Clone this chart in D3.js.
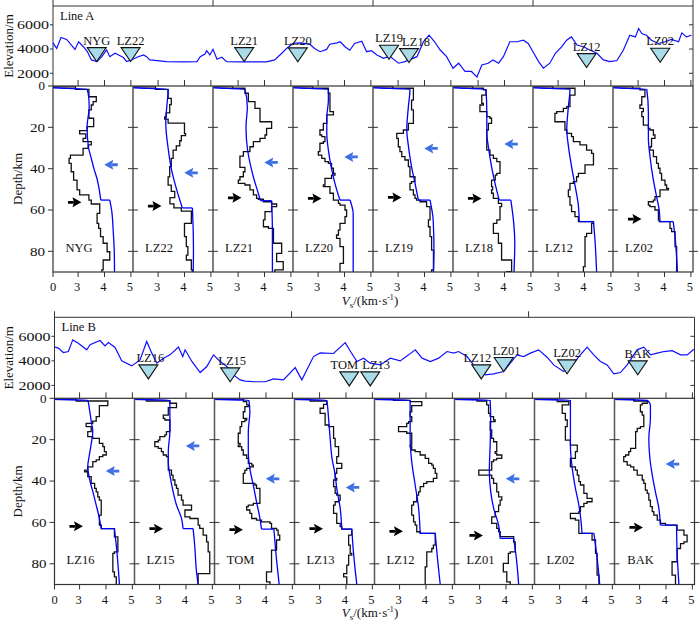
<!DOCTYPE html>
<html><head><meta charset="utf-8">
<script src="https://cdn.jsdelivr.net/npm/d3@7/dist/d3.min.js"></script>
<style>body{margin:0;background:#fff}svg{display:block}</style>
</head><body>
<svg id="c" width="700" height="622"></svg>
<script>
// ---------------- DATA ----------------
const velTicks = [3, 4, 5];
const depthTicks = [0, 20, 40, 60, 80];
const elevTicks = [2000, 4000, 6000];

// Line A elevation profile [distance km, elevation m]
const profileA = [[0,4510],[4.6,4050],[10,4950],[17,4790],[23,4330],[27.5,3970],[32,4600],[38,4190],[43,3780],[48,3100],[55,2960],[61,3370],[67,3920],[71,3370],[77.5,3650],[82,3510],[88,3300],[92,2960],[98,3100],[105,3320],[113,3510],[117,3370],[121,3100],[130,3050],[142,2960],[163,2940],[180,2960],[184,3370],[190,3590],[192,3860],[196,3510],[200,3970],[205,3160],[211,3320],[217,2960],[234,2940],[267,2940],[277,3100],[286,3650],[292,4050],[300,4460],[309,4510],[321,4400],[327,4050],[334,3780],[342,3970],[346,4400],[355,4510],[359,4600],[365,4190],[371,3900],[377,4460],[386,4650],[392,3780],[398,3860],[405,3510],[413,3240],[421,3400],[432,2830],[440,2960],[455,3370],[463,4600],[470,5140],[477,4600],[484,3920],[492,3370],[500,2420],[507,2830],[515,2150],[523,2150],[530,1690],[536,2690],[544,2830],[550,3100],[557,2830],[563,3370],[571,4600],[580,4600],[588,4730],[594,4460],[600,3780],[607,2960],[613,2420],[621,2830],[628,3650],[636,4190],[642,4730],[648,5000],[655,4330],[663,4190],[671,3920],[680,3650],[688,3100],[696,2960],[705,3050],[713,3920],[721,5140],[728,5000],[732,5690],[736,5280],[742,5140],[748,4730],[757,4460],[765,4600],[773,4790],[782,4600],[786,5330],[792,5000],[798,5140]];
const stationsA = ["NYG","LZ22","LZ21","LZ20","LZ19","LZ18","LZ12","LZ02"];
const stationDistA = [54.6, 97, 239, 306, 420, 445, 667, 759];
const stationElevA = [2960, 2960, 2960, 2940, 3160, 2880, 2470, 2910];
const labelNudgeA = [0, 0, 0, 0, 0, 7, 0, 0];

// Line B elevation profile
const profileB = [[0.4,5120],[3.2,5040],[7.5,4680],[11.7,4760],[15.4,5710],[20.1,5440],[27.2,4900],[30,5310],[38.4,5660],[42.6,5220],[45.5,5490],[51.1,5090],[56.7,4000],[65.2,3590],[72.2,4080],[77.8,5580],[82.1,4630],[86.3,3810],[91.9,4220],[97.5,4490],[104.6,5120],[108.2,4350],[110.2,4900],[115.9,3950],[122.9,3050],[128.5,3540],[134.1,4490],[139.8,3950],[145.4,3540],[151,2860],[156.6,2450],[160.8,2350],[169.3,2300],[177.8,2300],[184.8,2530],[193.2,2450],[203.1,3450],[208.7,2450],[218.5,4350],[224.2,4650],[235.4,4600],[245.3,5490],[249.5,4800],[255.2,3950],[260.8,4220],[266.4,3810],[274.9,3670],[283.3,4220],[291.7,4000],[298.8,4490],[304.4,4900],[310.1,4220],[317.1,3950],[324.1,4220],[331.2,4760],[336.8,4630],[341,4760],[348.1,4350],[353.6,3670],[359.3,3200],[363.5,2860],[370.5,2940],[379,3130],[384.6,3810],[390.3,4490],[395.9,4350],[401.5,4630],[408.5,4900],[415.6,4300],[421.2,3670],[429.6,3130],[438.1,3810],[443.7,4490],[449.4,5120],[455,4490],[460.6,3950],[466.3,3670],[471.9,2940],[477.5,3050],[483.2,3670],[491.6,4900],[497.2,5120],[502.9,4490],[508.5,4630],[514.1,4760],[521.2,4830],[528.2,4490],[533.8,4490],[539.5,4950]];
const stationsB = ["LZ16","LZ15","TOM","LZ13","LZ12","LZ01","LZ02","BAK"];
const stationDistB = [79.2, 148.2, 248.7, 266.4, 360.1, 379, 432.5, 492.1];
const stationElevB = [2530, 2290, 1960, 1960, 2530, 3130, 2940, 2860];
const labelNudgeB = [2, 2, -5, 6, -4, 3, 0, 0];

// Inverted Vs models (black steps): [top depth km, Vs km/s]
const vsObsA = [
 [[0,1.8],[0.4,2.9],[1.6,3.41],[5.2,3.69],[7.6,3.57],[9.2,3.5],[11.6,3.41],[15.6,3.59],[19.7,3.34],[21.6,3.06],[23.2,3.29],[25.3,3.19],[26.9,3.5],[28.5,3.38],[30.2,3.19],[33.4,2.71],[35,2.66],[37.4,2.74],[41.5,2.83],[45.5,2.96],[50.3,3.06],[52.7,3.41],[55.2,3.5],[57.1,3.82],[61.6,3.72],[66.5,3.78],[68.9,3.85],[72.9,3.95],[76.1,4.1],[80.2,4.2],[84.2,3.95],[89,3.9]],
 [[0,1.8],[0.4,2.9],[1.6,3.38],[6,3.5],[9,3.44],[13,3.31],[15,3.25],[16,3.38],[18,4.0],[23,4.04],[24,3.88],[26.5,3.82],[29,3.69],[31,3.57],[35,3.5],[39,3.44],[44,3.38],[48,3.5],[51,3.63],[54,3.45],[57,3.6],[59,3.88],[60.5,4.26],[65,4.26],[66.5,4.0],[72.9,4.07],[77.7,4.13],[81.8,4.07],[84.2,4.26],[89,4.3]],
 [[0,1.8],[0.4,2.8],[1.1,3.26],[3.5,3.39],[7.6,3.64],[10.8,3.83],[17.3,4.27],[20.5,4.08],[23.7,4.02],[25.3,3.83],[26.9,3.58],[29.4,3.45],[31.8,3.2],[33.9,3.07],[39.4,3.26],[41.5,3.2],[43.9,3.07],[45.5,3.01],[47.1,3.26],[47.9,3.45],[50.3,3.58],[52.7,3.7],[54.4,3.77],[54.8,3.96],[56,4.27],[57.1,4.46],[58.4,4.27],[60.8,4.02],[64.8,3.96],[68.1,4.15],[68.9,4.34],[76.1,4.65],[81,4.46],[85,4.71],[89,4.39]],
 [[0,1.8],[0.4,2.8],[1.1,3.39],[3.5,3.45],[12.4,3.58],[14,3.33],[18.1,3.2],[21.3,3.07],[23.7,3.14],[24.5,3.26],[26.9,3.2],[27.7,3.07],[31.8,3.01],[33.4,3.14],[35,3.26],[36.6,3.39],[37.4,3.51],[39.8,3.58],[42.3,3.64],[43.1,3.51],[44.7,3.26],[47.9,3.2],[48.7,3.45],[51.9,3.58],[55.2,3.77],[56.8,3.83],[57.6,4.02],[60,4.08],[63.2,4.02],[66.5,3.83],[69.7,3.77],[72.1,3.7],[73.7,3.83],[77.7,3.96],[85.8,3.83]],
 [[0,1.8],[0.4,2.8],[1.1,3.58],[6.8,3.51],[11.6,3.58],[18.1,3.39],[21.3,3.2],[22.9,2.95],[25.3,3.01],[29.4,3.07],[31.8,3.14],[34.2,3.26],[35.8,3.39],[39,3.45],[43.9,3.64],[46.3,3.51],[47.1,3.45],[50.3,3.58],[52.7,3.64],[54.4,3.7],[55.2,3.83],[56,4.08],[58.4,4.21],[64.8,4.15],[68.1,4.21],[72.9,4.27],[79.4,4.34],[89,4.27]],
 [[0,1.8],[0.4,2.8],[1.1,3.2],[1.9,3.3],[4.4,3.14],[8.4,3.2],[9.2,3.07],[12.4,3.33],[14.8,3.45],[15.6,3.51],[18.1,3.39],[21.3,3.33],[31,3.45],[33.4,3.58],[35,3.71],[36.6,3.83],[42.3,3.71],[43.1,3.65],[45.5,3.51],[48.7,3.55],[50.3,3.51],[51.9,3.58],[54.4,3.77],[56.8,3.89],[58.4,3.83],[64.8,3.71],[66.5,3.58],[71.3,3.77],[76.1,3.89],[84.2,4.27],[89.8,4.08]],
 [[0,1.8],[0.4,2.8],[1.1,3.64],[4.4,3.45],[10,3.33],[10.8,3.2],[12.4,2.95],[13.2,2.88],[17.3,3.26],[21.3,3.33],[22.9,3.51],[24.5,3.58],[26.9,3.83],[28.5,4.08],[31,4.27],[32.6,4.34],[38.2,4.02],[42.3,3.77],[43.9,3.7],[46.3,3.58],[47.1,3.45],[50.3,3.39],[53.5,3.45],[57.6,3.51],[60.8,3.64],[63.2,3.77],[65.6,4.34],[66.5,4.27],[71.3,4.08],[72.9,4.02],[87.4,3.96]],
 [[0,1.8],[0.4,2.8],[1.1,3.07],[1.9,3.26],[5.2,3.14],[9.2,3.07],[10.8,3.2],[12.4,3.14],[14.8,3.2],[18.9,3.39],[20.5,3.45],[21.3,3.58],[23.7,3.64],[25.3,3.51],[29.4,3.45],[31,3.58],[34.2,3.7],[37.4,3.77],[39.8,3.83],[42.3,3.89],[45.5,4.02],[47.9,4.08],[49.5,4.15],[50.3,3.83],[53.5,3.64],[55.2,3.58],[56,3.39],[57.6,3.45],[58.4,3.64],[60,3.77],[64.8,3.8],[65.6,4.21],[68.9,4.27],[70.5,4.4],[77.7,4.46]]
];
const vsObsB = [
 [[0,1.8],[0.4,2.87],[1.3,4.07],[3.5,3.75],[8.9,3.63],[11,3.5],[12.1,3.25],[13.7,3.44],[16.1,3.31],[18.5,3.5],[19.4,3.75],[21.8,3.88],[23.4,3.94],[25.8,4.01],[27.4,3.88],[28.2,3.75],[29.8,3.63],[30.6,3.5],[33.1,3.31],[34.7,3.19],[35.5,3.31],[37.9,3.44],[41.1,3.57],[43.5,3.63],[45.2,3.69],[47.6,3.75],[49.2,3.82],[56.5,3.75],[61.3,3.82],[63,4.32],[67,4.45],[74.2,4.32],[75,4.26],[83.9,4.32],[86.3,4.39]],
 [[0,1.8],[0.4,2.5],[1.3,3.39],[2.4,3.64],[4.5,3.33],[8.1,3.14],[9.7,3.2],[10.5,3.39],[16.1,3.26],[17.7,3.2],[18.5,3.01],[20.2,2.95],[21,2.82],[23.4,2.95],[24.2,3.07],[25.8,3.14],[27.4,3.26],[28.2,3.33],[34.7,3.45],[37.1,3.51],[39.5,3.58],[41.9,3.64],[43.5,3.7],[46.8,3.83],[49.2,3.89],[51.6,4.21],[54,3.96],[57.3,4.15],[58.1,4.46],[61.3,4.52],[62.9,4.65],[66.1,4.78],[69.4,4.84],[74.2,4.9],[84.7,4.46]],
 [[0,1.8],[0.4,3.14],[1.6,3.27],[3.2,3.33],[4,3.2],[6.5,3.14],[9.7,3.27],[10.5,3.2],[11.3,3.08],[13.7,3.02],[16.9,2.95],[21.8,3.02],[22.6,2.95],[23.4,3.08],[25,3.14],[27.4,3.27],[29,3.33],[31.5,3.46],[32.3,3.52],[33.1,3.39],[33.9,3.27],[34.7,3.2],[36.3,3.14],[41.1,3.58],[41.9,3.64],[43.5,3.77],[48.4,3.77],[50.8,3.52],[51.6,3.33],[52.4,3.27],[54,3.39],[55.6,3.46],[58.1,3.64],[58.9,3.83],[59.7,4.15],[60.5,4.21],[62.9,4.4],[63.7,4.46],[66.1,4.52],[68.5,4.4],[73.4,4.21],[83.9,4.02],[88.7,4.15]],
 [[0,1.8],[0.4,2.64],[1.3,3.27],[2.9,3.15],[4.8,3.02],[7.3,3.21],[12.9,3.35],[13.7,3.53],[19.4,3.59],[23.4,3.72],[28.2,3.65],[31.5,3.84],[33.9,3.65],[36.3,3.59],[38.7,3.65],[39.5,3.53],[42.7,3.59],[46,3.65],[46.8,3.78],[49.2,3.72],[50,3.59],[51.6,3.53],[55.6,3.65],[60.5,3.78],[62,3.84],[63.2,4.22],[66.1,4.1],[71,4.16],[75,4.22],[75.8,4.1],[80.6,4.03],[84.7,3.91],[86.3,4.03]],
 [[0,1.8],[0.4,2.77],[1.0,3.4],[1.6,3.84],[3.5,3.46],[6.5,3.4],[8.9,3.46],[11.3,3.34],[12.1,3.27],[13.7,2.96],[16.1,3.27],[16.9,3.46],[22.6,3.4],[23.4,3.46],[25,3.59],[25.8,3.78],[27.4,3.97],[29,4.1],[31.5,4.22],[32.3,4.28],[33.9,4.35],[36.3,4.41],[38.7,4.28],[40.3,4.03],[41.1,3.91],[42.7,3.78],[45.2,3.72],[46.8,3.65],[50,3.53],[51.6,3.46],[56.5,3.53],[59.7,3.59],[61.3,3.65],[64.5,3.78],[65.3,4.35],[71,4.28],[72.6,4.22],[74.2,4.03],[81.5,3.97]],
 [[0,1.8],[0.4,2.9],[1.3,3.27],[3.2,3.34],[7.3,3.4],[8.9,3.53],[10.5,3.59],[11.3,3.4],[15.3,3.46],[19.4,3.53],[21,3.65],[25.8,3.59],[26.6,3.65],[27.4,3.84],[29,3.65],[29.8,3.53],[30.6,3.46],[34.7,2.97],[37.1,3.46],[38.7,3.53],[41.1,3.65],[45.2,3.72],[47.6,3.84],[49.2,3.78],[51.6,3.72],[54.8,3.59],[57.3,3.46],[60.5,3.65],[62.9,3.72],[64.5,3.78],[66.9,4.29],[69.4,4.35],[74.2,4.16],[75,4.09],[79.8,3.9],[83.9,4.03],[88.7,4.16]],
 [[0,1.8],[0.4,2.91],[1.6,3.35],[3.2,3.1],[7.3,3.22],[10.5,3.29],[13.7,3.22],[20.2,3.41],[22.6,3.67],[25.8,3.6],[29,3.41],[33.1,3.6],[34.7,3.67],[37.1,3.73],[40.3,3.79],[41.9,3.92],[46,4.04],[48.4,4.23],[50,4.04],[50.8,3.92],[52.4,3.79],[54.8,3.73],[55.6,3.41],[58.1,3.6],[58.9,3.73],[65.3,4.23],[68.5,4.36],[75,4.42],[85.5,4.49]],
 [[0,1.8],[0.4,2.78],[1.3,3.29],[2.4,3.1],[3.2,3.03],[6.5,3.1],[8.1,3.16],[13.7,3.03],[14.5,2.91],[16.1,2.85],[24.2,2.66],[25.8,2.59],[27.4,2.47],[28.2,2.4],[30.6,2.53],[32.3,2.66],[33.1,2.78],[34.7,2.91],[37.1,3.1],[39.5,3.16],[41.1,3.22],[44.4,3.29],[46,3.35],[49.2,3.41],[52.4,3.48],[54.8,3.54],[56.5,3.67],[58.9,3.79],[60.5,3.98],[61.3,4.42],[63.7,4.68],[66.1,4.8],[69.4,4.68],[70.2,4.55],[72.6,4.42],[79,4.23],[85.5,4.36]]
];

// Reference models (blue): [depth km, Vs km/s]; repeated depth = Moho jump
const vsRefA = [
 [[0,1.5],[0.8,2.0],[1.6,3.34],[5,3.4],[10,3.42],[20,3.34],[30,3.4],[35,3.5],[40,3.6],[45,3.72],[50,3.8],[55.2,3.86],[55.2,4.2],[60,4.27],[70,4.33],[80,4.37],[90,4.38]],
 [[0,1.5],[0.8,2.0],[1.6,3.38],[10,3.33],[17,3.29],[25,3.33],[30,3.38],[40,3.5],[50,3.7],[59,3.92],[59,4.3],[70,4.33],[80,4.34],[90,4.33]],
 [[0,1.5],[0.8,2.0],[1.6,3.26],[10,3.35],[20,3.3],[30,3.35],[40,3.5],[45,3.6],[50,3.72],[55.5,3.85],[55.5,4.27],[70,4.3],[90,4.3]],
 [[0,1.5],[0.8,2.0],[1.6,3.39],[7,3.39],[15,3.33],[23,3.33],[31,3.39],[40,3.51],[50,3.7],[55.2,3.83],[55.2,4.21],[62,4.33],[90,4.33]],
 [[0,1.5],[0.8,2.0],[1.6,3.45],[10,3.39],[21,3.33],[29,3.39],[39,3.51],[47,3.64],[55.2,3.77],[55.2,4.21],[65,4.33],[80,4.36],[90,4.34]],
 [[0,1.5],[0.8,2.0],[1.6,3.3],[13,3.33],[23,3.33],[29.4,3.39],[39,3.51],[47,3.64],[55.2,3.8],[55.2,4.24],[65,4.34],[76,4.39],[90,4.36]],
 [[0,1.5],[0.8,2.0],[1.6,3.45],[10,3.39],[21,3.33],[29,3.39],[39,3.51],[48,3.64],[58,3.77],[65.6,3.8],[65.6,4.34],[75,4.4],[90,4.46]],
 [[0,1.5],[0.8,2.0],[1.6,3.33],[13,3.39],[25,3.39],[34,3.45],[45.5,3.58],[53.5,3.7],[60,3.8],[65.6,3.83],[65.6,4.33],[73,4.4],[90,4.49]]
];
const vsRefB = [
 [[0,1.5],[0.5,2.0],[1.0,3.31],[5,3.37],[11,3.44],[16,3.5],[22,3.44],[27.4,3.37],[33,3.31],[38.7,3.37],[45,3.5],[51.6,3.63],[58,3.75],[63,3.82],[63,4.32],[71,4.39],[90,4.51]],
 [[0,1.5],[0.5,2.0],[1.0,3.39],[8,3.39],[16,3.39],[25.8,3.33],[31,3.33],[37,3.39],[45,3.51],[51.6,3.64],[58,3.83],[63,3.89],[63,4.27],[71,4.33],[84,4.4],[90,4.46]],
 [[0,1.5],[0.5,2.0],[1.0,3.35],[6.5,3.39],[16,3.33],[26,3.33],[34,3.39],[42,3.52],[50,3.64],[58,3.77],[63.2,3.83],[63.2,4.3],[74,4.37],[90,4.5]],
 [[0,1.5],[0.5,2.0],[1.0,3.27],[9.7,3.34],[19.4,3.4],[29,3.47],[37,3.59],[43.5,3.65],[53,3.78],[63.2,3.84],[63.2,4.22],[74,4.28],[90,4.41]],
 [[0,1.5],[0.5,2.0],[1.0,3.4],[9.7,3.4],[19.4,3.4],[30.6,3.46],[41.9,3.59],[53,3.72],[60,3.76],[65.3,3.78],[65.3,4.35],[74,4.41],[90,4.54]],
 [[0,1.5],[0.5,2.0],[1.0,3.4],[9.7,3.42],[22.6,3.4],[35.5,3.37],[45,3.42],[53,3.53],[61.3,3.72],[67.7,3.78],[67.7,4.29],[77,4.39],[90,4.48]],
 [[0,1.5],[0.5,2.0],[1.0,3.41],[9.7,3.41],[22.6,3.41],[33.9,3.48],[43.5,3.6],[51.6,3.73],[58,3.8],[65.3,3.85],[65.3,4.3],[77,4.42],[90,4.52]],
 [[0,1.5],[0.5,2.0],[1.0,3.29],[3.2,3.41],[9.7,3.41],[19.4,3.35],[29,3.39],[37.1,3.48],[45.2,3.6],[53.2,3.73],[61.3,3.79],[61.3,4.4],[74,4.42],[90,4.49]]
];

// Arrow depths (km): black = Moho, blue = low-velocity zone; null = none
const mohoArrowA = [56.3, 58.1, 54.1, 54.4, 53.9, 54.4, null, 64.4];
const lvzArrowA  = [38.1, 42.0, 37.0, 34.3, 30.2, 28.1, null, null];
const mohoArrowB = [61.9, 63.0, 63.5, 63.0, 64.3, 66.3, null, 62.4];
const lvzArrowB  = [35.2, 23.0, 38.9, 43.1, null, 38.9, null, 31.8];

// ---------------- DRAW ----------------
const FONT = '"Liberation Serif","Times New Roman",Times,serif';
const svg = d3.select('#c');
const FR = '#333', PW = 80;

const LINES = [
 {name:'Line A', left:53, elevTop:6, depthTop:86, depthBottom:272, distMax:800, distTicks:[0,200,400,600,800],
  profile:profileA, st:stationsA, stD:stationDistA, stE:stationElevA, nudge:labelNudgeA,
  obs:vsObsA, ref:vsRefA, moho:mohoArrowA, lvz:lvzArrowA, titleY:305, key:'A'},
 {name:'Line B', left:54.5, elevTop:317.3, depthTop:398.3, depthBottom:584.5, distMax:540, distTicks:[0,200,400],
  profile:profileB, st:stationsB, stD:stationDistB, stE:stationElevB, nudge:labelNudgeB,
  obs:vsObsB, ref:vsRefB, moho:mohoArrowB, lvz:lvzArrowB, titleY:617, key:'B'}
];

function ln(g,x1,y1,x2,y2,c,w){g.append('line').attr('x1',x1).attr('y1',y1).attr('x2',x2).attr('y2',y2).attr('stroke',c||FR).attr('stroke-width',w||1);}
function tx(g,x,y,s,anchor,size){return g.append('text').attr('x',x).attr('y',y).attr('text-anchor',anchor||'start').attr('font-family',FONT).attr('font-size',size||12.5).attr('fill','#111').text(s);}

function arrowPath(dir){
  const s = dir;
  return `M${6*s},0L${-3*s},-5L${-1.5*s},0L${-3*s},5Z M${-7.5*s},-1.4L${-1.5*s},-1.4L${-1.5*s},1.4L${-7.5*s},1.4Z`;
}

LINES.forEach(L => {
  const g = svg.append('g');
  const right = L.left + PW*8;
  const xd = d3.scaleLinear().domain([0, L.distMax]).range([L.left, right]);
  const ye = d3.scaleLinear().domain([950, 7550]).range([L.depthTop, L.elevTop]);
  const yd = d3.scaleLinear().domain([0, 90]).range([L.depthTop, L.depthBottom]);

  // ---- elevation panel ----
  g.append('path').attr('d',`M${L.left},${L.depthTop}V${L.elevTop}H${right}V${L.depthTop}`)
    .attr('fill','none').attr('stroke',FR).attr('stroke-width',1);
  L.distTicks.forEach(t => ln(g, xd(t), L.elevTop-6, xd(t), L.elevTop));
  elevTicks.forEach(t => {
    ln(g, L.left-3, ye(t), L.left, ye(t));
    ln(g, right-4, ye(t), right, ye(t));
    tx(g, L.left-4, ye(t)+4.3, t, 'end').attr('textLength',32).attr('lengthAdjust','spacingAndGlyphs');
  });
  tx(g, L.left+7, L.elevTop+14, L.name);
  g.append('text').attr('transform',`translate(13,${(L.elevTop+L.depthTop)/2}) rotate(-90)`)
    .attr('text-anchor','middle').attr('font-family',FONT).attr('font-size',13).attr('fill','#111').text('Elevation/m');

  g.append('path').datum(L.profile)
    .attr('d', d3.line().x(d=>xd(d[0])).y(d=>ye(d[1])))
    .attr('fill','none').attr('stroke','#1010ff').attr('stroke-width',1.2);

  L.st.forEach((s,i) => {
    const x = xd(L.stD[i]), ty = ye(L.stE[i]);
    g.append('path').attr('d',`M${x-9.5},${ty-14}L${x+9.5},${ty-14}L${x},${ty}Z`)
      .attr('fill','#a9dbe8').attr('stroke','#111').attr('stroke-width',1.1);
    tx(g, x + L.nudge[i], ty-17, s, 'middle');
  });

  // ---- depth panels ----
  g.append('text').attr('transform',`translate(22,${(L.depthTop+L.depthBottom)/2}) rotate(-90)`)
    .attr('text-anchor','middle').attr('font-family',FONT).attr('font-size',13).attr('fill','#111').text('Depth/km');

  depthTicks.forEach(t => {
    ln(g, L.left-5, yd(t), L.left, yd(t));
    tx(g, L.left-8, yd(t)+4.3, t, 'end').attr('textLength', t===0?6.5:15).attr('lengthAdjust','spacingAndGlyphs');
  });

  L.obs.forEach((layers, i) => {
    const x0 = L.left + i*PW;
    const xv = d3.scaleLinear().domain([2.05, 5.08]).range([x0, x0+PW]);
    const cid = `clip${L.key}${i}`;
    g.append('clipPath').attr('id',cid).append('rect')
      .attr('x',x0).attr('y',L.depthTop).attr('width',PW).attr('height',L.depthBottom-L.depthTop);
    const pg = g.append('g').attr('clip-path',`url(#${cid})`);

    // black step model
    const pts = [];
    layers.forEach((l,k) => {
      const nxt = k < layers.length-1 ? layers[k+1][0] : 90;
      pts.push([l[1], l[0]], [l[1], nxt]);
    });
    pg.append('path').datum(pts)
      .attr('d', d3.line().x(p=>xv(p[0])).y(p=>yd(p[1])))
      .attr('fill','none').attr('stroke','#111').attr('stroke-width',1.3);

    // blue reference model (split at Moho jump)
    const ref = L.ref[i];
    let j = ref.findIndex((p,k) => k>0 && p[0] === ref[k-1][0]);
    const segs = [ref.slice(0, j), ref.slice(j)];
    const cl = d3.line().x(p=>xv(p[1])).y(p=>yd(p[0])).curve(d3.curveMonotoneY);
    segs.forEach(sg => pg.append('path').datum(sg).attr('d', cl)
      .attr('fill','none').attr('stroke','#0000ff').attr('stroke-width',1.3));
    pg.append('path').datum([ref[j-1], ref[j]])
      .attr('d', d3.line().x(p=>xv(p[1])).y(p=>yd(p[0])))
      .attr('fill','none').attr('stroke','#0000ff').attr('stroke-width',1.3);

    // arrows
    if (L.moho[i] != null)
      g.append('path').attr('d', arrowPath(1))
        .attr('transform',`translate(${xv(2.9)},${yd(L.moho[i])})`).attr('fill','#000');
    if (L.lvz[i] != null)
      g.append('path').attr('d', arrowPath(-1))
        .attr('transform',`translate(${xv(4.22)},${yd(L.lvz[i])})`).attr('fill','#3d6fe3');

    // station label
    tx(g, x0+26, yd(80)+ (L.key==='A'?0.5:0.5), L.st[i], 'middle');

    // velocity ticks
    velTicks.forEach(v => {
      ln(g, xv(v), L.depthTop-6, xv(v), L.depthTop);
      ln(g, xv(v), L.depthBottom, xv(v), L.depthBottom+5);
      tx(g, xv(v)-1, L.depthBottom+19, v, 'middle');
    });

    // divider + depth ticks
    if (i > 0) {
      ln(g, x0, L.depthTop, x0, L.depthBottom, '#555', 1.5);
      depthTicks.slice(1).forEach(t => ln(g, x0-5, yd(t), x0+5, yd(t)));
    }
  });
  // frame
  g.append('rect').attr('x',L.left).attr('y',L.depthTop).attr('width',PW*8).attr('height',L.depthBottom-L.depthTop)
    .attr('fill','none').attr('stroke',FR).attr('stroke-width',1.2);
  depthTicks.slice(1).forEach(t => ln(g, right-4, yd(t), right+5, yd(t)));
  ln(g, L.left, L.depthBottom, L.left, L.depthBottom+5);
  tx(g, L.left, L.depthBottom+19, '0', 'middle');

  // x-axis title
  const t = g.append('text').attr('x',370).attr('y',L.titleY).attr('text-anchor','middle')
    .attr('font-family',FONT).attr('font-size',13).attr('fill','#111');
  t.append('tspan').attr('font-style','italic').text('V');
  t.append('tspan').attr('dy',3).attr('font-size',9).text('s');
  t.append('tspan').attr('dy',-3).text('/(km·s');
  t.append('tspan').attr('dy',-5).attr('font-size',8).text('-1');
  t.append('tspan').attr('dy',5).text(')');
});
</script>
</body></html>
